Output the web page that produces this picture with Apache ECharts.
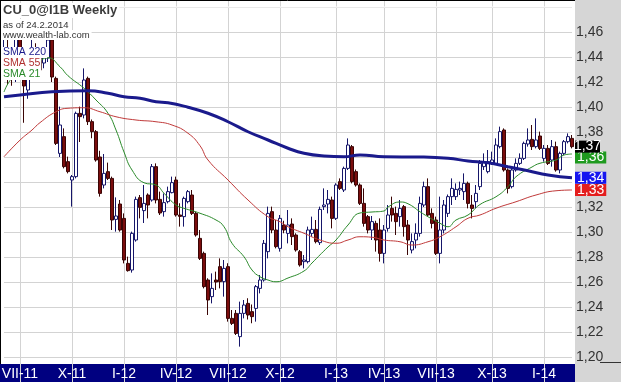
<!DOCTYPE html>
<html><head><meta charset="utf-8">
<script src="https://cdn.jsdelivr.net/npm/echarts@6/dist/echarts.min.js"></script>
<style>html,body{margin:0;padding:0;background:#d6d6d6;overflow:hidden}#c{width:621px;height:382px}</style>
</head><body><div id="c"></div>
<script>
// ---------- data ----------
const firstWeek = '2011-06-06';
const weekCount = 143;
const tickDates = ['2011-07-04','2011-10-03','2012-01-02','2012-04-02','2012-07-02','2012-10-01','2013-01-07','2013-04-01','2013-07-01','2013-10-07','2014-01-06'];
const tickLabels = ['VII-11','X-11','I-12','IV-12','VII-12','X-12','I-13','IV-13','VII-13','X-13','I-14'];

const opens = [1.440,1.446,1.434,1.424,1.455,1.4216,1.4136,1.436,1.446,1.4392,1.4352,1.4392,1.4536,1.4229,1.3629,1.3763,1.3563,1.3416,1.3443,1.3949,
1.3936,1.4229,1.3883,1.3803,1.3600,1.3376,1.3483,1.3429,1.3101,1.3224,1.3109,1.2749,1.2696,1.2936,1.3275,1.3171,1.3296,1.3256,1.3523,1.3261,
1.3163,1.3243,1.3315,1.3416,1.3136,1.3123,1.3243,1.3296,1.3149,1.2949,1.2829,1.2616,1.2483,1.2616,1.2723,1.2603,1.2723,1.2309,1.2349,1.2163,
1.2349,1.2429,1.2363,1.2389,1.2549,1.2616,1.2843,1.3163,1.3016,1.2869,1.3056,1.2989,1.3064,1.2976,1.2843,1.2763,1.2763,1.2989,1.3021,1.2915,
1.3203,1.3224,1.3256,1.3109,1.3403,1.3336,1.3509,1.3683,1.3483,1.3376,1.3229,1.3123,1.3016,1.3069,1.3016,1.2829,1.3029,1.3189,1.3149,1.3123,
1.3203,1.3056,1.2856,1.2936,1.2989,1.3216,1.3363,1.3149,1.3096,1.2829,1.3016,1.3149,1.3283,1.3283,1.3336,1.3323,1.3389,1.3216,1.3243,1.3363,
1.3523,1.3483,1.3549,1.3549,1.3683,1.3816,1.3496,1.3363,1.3496,1.3549,1.3589,1.3704,1.3741,1.3683,1.3768,1.3589,1.3669,1.3576,1.3683,1.3496,
1.3629,1.3723,1.3749];
const closes = [1.446,1.434,1.424,1.455,1.4268,1.4168,1.436,1.439,1.432,1.4296,1.4432,1.4536,1.4240,1.3709,1.3856,1.3523,1.3483,1.3443,1.3949,1.3923,
1.4216,1.3883,1.3803,1.3576,1.3309,1.3469,1.3429,1.3096,1.3128,1.3016,1.2776,1.2691,1.2989,1.3261,1.3197,1.3229,1.3216,1.3523,1.3256,1.3152,
1.3235,1.3323,1.3395,1.3136,1.3125,1.3269,1.3323,1.3149,1.2976,1.2789,1.2563,1.2456,1.2549,1.2600,1.2603,1.2709,1.2309,1.2269,1.2189,1.2349,
1.2416,1.2336,1.2323,1.2563,1.2616,1.2909,1.3149,1.3016,1.2883,1.3109,1.3016,1.3056,1.2963,1.2856,1.2736,1.2776,1.3016,1.3021,1.2923,1.3181,
1.3216,1.3261,1.3109,1.3376,1.3349,1.3509,1.3696,1.3403,1.3376,1.3229,1.3069,1.3016,1.3083,1.2936,1.2829,1.3016,1.3136,1.3136,1.3083,1.3189,
1.3043,1.2936,1.2923,1.2989,1.3229,1.3363,1.3136,1.3069,1.2829,1.3016,1.3216,1.3283,1.3349,1.3341,1.3349,1.3389,1.3229,1.3189,1.3309,1.3549,
1.3563,1.3563,1.3576,1.3696,1.3803,1.3496,1.3349,1.3496,1.3549,1.3589,1.3709,1.3736,1.3683,1.3736,1.3669,1.3669,1.3549,1.3683,1.3496,1.3629,
1.3723,1.3763,1.3683];
const lows = [1.425,1.4176,1.417,1.420,1.4235,1.3874,1.4066,1.428,1.4216,1.425,1.431,1.436,1.420,1.3696,1.3600,1.3509,1.3469,1.3203,1.3429,1.3720,
1.3909,1.3856,1.3750,1.3563,1.3283,1.3349,1.3416,1.3016,1.3003,1.3003,1.2749,1.2683,1.2675,1.2923,1.3109,1.3072,1.3109,1.3243,1.3229,1.3136,
1.3123,1.3229,1.3309,1.3123,1.3043,1.3043,1.3229,1.3136,1.2963,1.2776,1.2549,1.2336,1.2429,1.2536,1.2549,1.2483,1.2283,1.2256,1.2176,1.2083,
1.2309,1.2300,1.2270,1.2283,1.2509,1.2603,1.2789,1.2990,1.2869,1.2843,1.2990,1.2909,1.2896,1.2843,1.2723,1.2709,1.2749,1.2963,1.2909,1.2896,
1.3176,1.3149,1.3029,1.3096,1.3336,1.3320,1.3496,1.3389,1.3363,1.3216,1.3043,1.2989,1.2936,1.2843,1.2763,1.2749,1.3003,1.3083,1.2976,1.3043,
1.2963,1.2816,1.2829,1.2869,1.2963,1.3200,1.3123,1.3029,1.2816,1.2749,1.2989,1.3120,1.3216,1.3256,1.3296,1.3256,1.3189,1.3109,1.3189,1.3336,
1.3496,1.3469,1.3536,1.3536,1.3669,1.3483,1.3309,1.3349,1.3483,1.3536,1.3576,1.3683,1.3656,1.3669,1.3656,1.3563,1.3536,1.3523,1.3483,1.3469,
1.3616,1.3709,1.3669];
const highs = [1.462,1.458,1.441,1.460,1.462,1.4300,1.441,1.455,1.451,1.446,1.448,1.458,1.459,1.4243,1.4003,1.3829,1.3603,1.3456,1.3963,1.4003,
1.4309,1.4243,1.3900,1.3816,1.3650,1.3624,1.3555,1.3443,1.3277,1.3256,1.3149,1.2803,1.3003,1.3283,1.3296,1.3376,1.3309,1.3544,1.3549,1.3323,
1.3309,1.3363,1.3443,1.3443,1.3230,1.3283,1.3336,1.3336,1.3163,1.3016,1.2843,1.2630,1.2669,1.2683,1.2789,1.2776,1.2750,1.2376,1.2376,1.2443,
1.2456,1.2470,1.2420,1.2576,1.2656,1.2936,1.3203,1.3203,1.3096,1.3136,1.3090,1.3176,1.3109,1.2990,1.2856,1.2816,1.3043,1.3123,1.3096,1.3203,
1.3349,1.3336,1.3283,1.3390,1.3429,1.3523,1.3749,1.3696,1.3500,1.3389,1.3349,1.3136,1.3128,1.3090,1.3109,1.3056,1.3216,1.3283,1.3203,1.3256,
1.3216,1.3096,1.2989,1.3069,1.3283,1.3403,1.3429,1.3189,1.3123,1.3283,1.3256,1.3300,1.3429,1.3389,1.3403,1.3469,1.3403,1.3296,1.3376,1.3576,
1.3629,1.3656,1.3643,1.3749,1.3843,1.3829,1.3509,1.3509,1.3589,1.3629,1.3723,1.3829,1.3856,1.3909,1.3803,1.3696,1.3696,1.3736,1.3723,1.3643,
1.3736,1.3789,1.3776];

const sma220Idx = [0,4,12,21,26,30,34,38,41,46,51,56,61,66,71,75,80,85,89,95,104,111,116,121,126,131,136,142];
const sma220Val = [1.4082,1.4096,1.4122,1.4130,1.4110,1.4082,1.4070,1.4042,1.4034,1.3998,1.3950,1.3882,1.3802,1.3736,1.3670,1.3630,1.3608,1.3602,1.3616,1.3602,1.3600,1.3590,1.3568,1.3554,1.3522,1.3490,1.3456,1.3434];

const sma55Idx = [0,4,7,9,13,16,20,24,28,33,38,42,46,49,51,56,61,66,69,71,75,79,83,86,89,92,95,99,102,106,109,113,116,119,123,128,133,138,142];
const sma55Val = [1.3602,1.3735,1.3816,1.3875,1.3962,1.3990,1.3994,1.3962,1.3922,1.3896,1.3882,1.3856,1.3790,1.3690,1.3576,1.3416,1.3256,1.3122,1.3082,1.3042,1.2990,1.2936,1.2910,1.2936,1.2962,1.2958,1.2936,1.2922,1.2896,1.2922,1.2962,1.3042,1.3110,1.3136,1.3190,1.3242,1.3296,1.3330,1.3336];

const sma21Idx = [0,2,5,8,11,14,16,20,23,26,28,30,32,35,38,40,43,45,49,53,55,57,60,62,64,66,68,71,75,77,81,83,86,89,92,95,96,99,101,104,106,109,111,113,116,119,123,126,128,132,134,138,140,142];
const sma21Val = [1.4120,1.4232,1.4300,1.4350,1.4394,1.4322,1.4250,1.4150,1.4056,1.3950,1.3816,1.3640,1.3496,1.3394,1.3376,1.3310,1.3216,1.3190,1.3150,1.3096,1.3042,1.2910,1.2802,1.2696,1.2642,1.2616,1.2602,1.2632,1.2688,1.2752,1.2880,1.2936,1.3056,1.3152,1.3160,1.3168,1.3200,1.3240,1.3226,1.3162,1.3122,1.3070,1.3042,1.3096,1.3136,1.3220,1.3282,1.3362,1.3442,1.3520,1.3550,1.3576,1.3616,1.3624];

// ---------- build ----------
const categories = [];
{ const d0 = new Date(firstWeek + 'T00:00:00Z');
  for (let i = 0; i < weekCount; i++) { const d = new Date(d0.getTime() + i * 7 * 86400000); categories.push(d.toISOString().slice(0, 10)); } }
const tickMap = {}; tickDates.forEach((d, k) => tickMap[d] = tickLabels[k]);
const candles = opens.map((o, i) => [o, closes[i], lows[i], highs[i]]);
const pairs = (idx, vals) => idx.map((x, k) => [x, vals[k]]);
const fmt = v => v.toFixed(2).replace('.', ',');
const NARROW = '"Liberation Sans Narrow", "Liberation Sans", Arial, sans-serif';
const SANS = '"Liberation Sans", Arial, sans-serif';
const last = weekCount - 1;

function tag(bg, dy) {
  return { show: true, formatter: p => fmt(p.value[1]), color: '#fff', backgroundColor: bg,
    fontFamily: NARROW, fontSize: 14, lineHeight: 12, padding: [0, 2, 0, 2], distance: 3, offset: [0, dy] };
}

const chart = echarts.init(document.getElementById('c'));
chart.setOption({
  animation: false,
  backgroundColor: 'transparent',
  grid: { left: 4, width: 568, top: -18, height: 400, containLabel: false, outerBoundsMode: 'none' },
  xAxis: {
    type: 'category', data: categories, boundaryGap: false, offset: -18,
    axisLine: { show: false }, axisTick: { show: false },
    axisLabel: { interval: (i, v) => tickMap[v] !== undefined, formatter: v => tickMap[v] || '',
      color: '#ffffff', fontFamily: NARROW, fontSize: 14, margin: 3 },
    splitLine: { show: true, interval: (i, v) => tickMap[v] !== undefined, lineStyle: { color: '#d3d3d3', width: 1 } }
  },
  yAxis: {
    type: 'value', position: 'right', min: 1.18, max: 1.50, interval: 0.02,
    axisLine: { show: false }, axisTick: { show: false },
    axisLabel: { formatter: v => { const r = Math.round(v * 100); return (r >= 120 && r <= 146) ? fmt(r / 100) : ''; },
      color: '#333', fontFamily: NARROW, fontSize: 14, margin: 4 },
    splitLine: { show: true, lineStyle: { color: '#d3d3d3', width: 1 } }
  },
  series: [
    { type: 'candlestick', data: candles, barWidth: 3, clip: false, z: 2,
      itemStyle: { color: '#ffffff', color0: '#7a0d0d', borderColor: '#16166a', borderColor0: '#3a0505', borderWidth: 1 },
      markPoint: { symbol: 'rect', symbolSize: [25, 12], symbolOffset: [15.5, 0], silent: true,
        data: [{ coord: [last, closes[last]], value: closes[last] }],
        itemStyle: { color: '#000' },
        label: { show: true, position: 'inside', formatter: p => fmt(p.value), color: '#fff', fontFamily: NARROW, fontSize: 14 } } },
    { type: 'line', name: 'SMA 21', data: pairs(sma21Idx, sma21Val), smooth: true, symbol: 'none', z: 3,
      lineStyle: { color: '#2a8a2a', width: 1 }, endLabel: tag('#1e9a1e', 3.5) },
    { type: 'line', name: 'SMA 55', data: pairs(sma55Idx, sma55Val), smooth: true, symbol: 'none', z: 3,
      lineStyle: { color: '#c03a3a', width: 1 }, endLabel: tag('#e41e1e', 0) },
    { type: 'line', name: 'SMA 220', data: pairs(sma220Idx, sma220Val), smooth: true, symbol: 'none', z: 3,
      lineStyle: { color: '#1a1a8c', width: 3 }, endLabel: tag('#1616f0', 0) }
  ],
  graphic: [
    { type: 'rect', shape: { x: 0, y: 0, width: 575, height: 364 }, style: { fill: '#ffffff' }, z: -10, silent: true },
    { type: 'rect', shape: { x: 0, y: 364, width: 575, height: 18 }, style: { fill: '#000080' }, z: -9, silent: true },
    { type: 'rect', shape: { x: 1, y: 6.5, width: 573, height: 1 }, style: { fill: '#ffffff' }, z: 1, silent: true },
    { type: 'line', shape: { x1: 600, y1: 362.5, x2: 621, y2: 362.5 }, style: { stroke: '#333', lineWidth: 1 }, z: 20, silent: true },
    { type: 'line', shape: { x1: 0.5, y1: 0, x2: 0.5, y2: 364 }, style: { stroke: '#000', lineWidth: 1 }, z: 20, silent: true },
    { type: 'line', shape: { x1: 0, y1: 0.5, x2: 575, y2: 0.5 }, style: { stroke: '#000', lineWidth: 1 }, z: 20, silent: true },
    { type: 'text', x: 2, y: 3, z: 20, silent: true, style: { text: 'CU_0@I1B Weekly', font: 'bold 13px ' + SANS, fill: '#3c3c3c', backgroundColor: '#fff', padding: [1, 2, 1, 1] } },
    { type: 'text', x: 2, y: 19, z: 20, silent: true, style: { text: 'as of 24.2.2014', font: '9.5px ' + SANS, fill: '#333', backgroundColor: '#fff', padding: [1, 2, 0, 1] } },
    { type: 'text', x: 2, y: 30, z: 20, silent: true, style: { text: 'www.wealth-lab.com', font: '9.5px ' + SANS, fill: '#333', backgroundColor: '#fff', padding: [0, 2, 0, 1] } },
    { type: 'text', x: 2, y: 47, z: 20, silent: true, style: { text: 'SMA 220', font: '10.5px ' + SANS, fill: '#1a1a8c', backgroundColor: '#fff', padding: [0, 1, 0, 1] } },
    { type: 'text', x: 2, y: 58, z: 20, silent: true, style: { text: 'SMA 55', font: '10.5px ' + SANS, fill: '#b03030', backgroundColor: '#fff', padding: [0, 1, 0, 1] } },
    { type: 'text', x: 2, y: 69, z: 20, silent: true, style: { text: 'SMA 21', font: '10.5px ' + SANS, fill: '#2a8a2a', backgroundColor: '#fff', padding: [0, 1, 0, 1] } }
  ]
});
</script></body></html>
